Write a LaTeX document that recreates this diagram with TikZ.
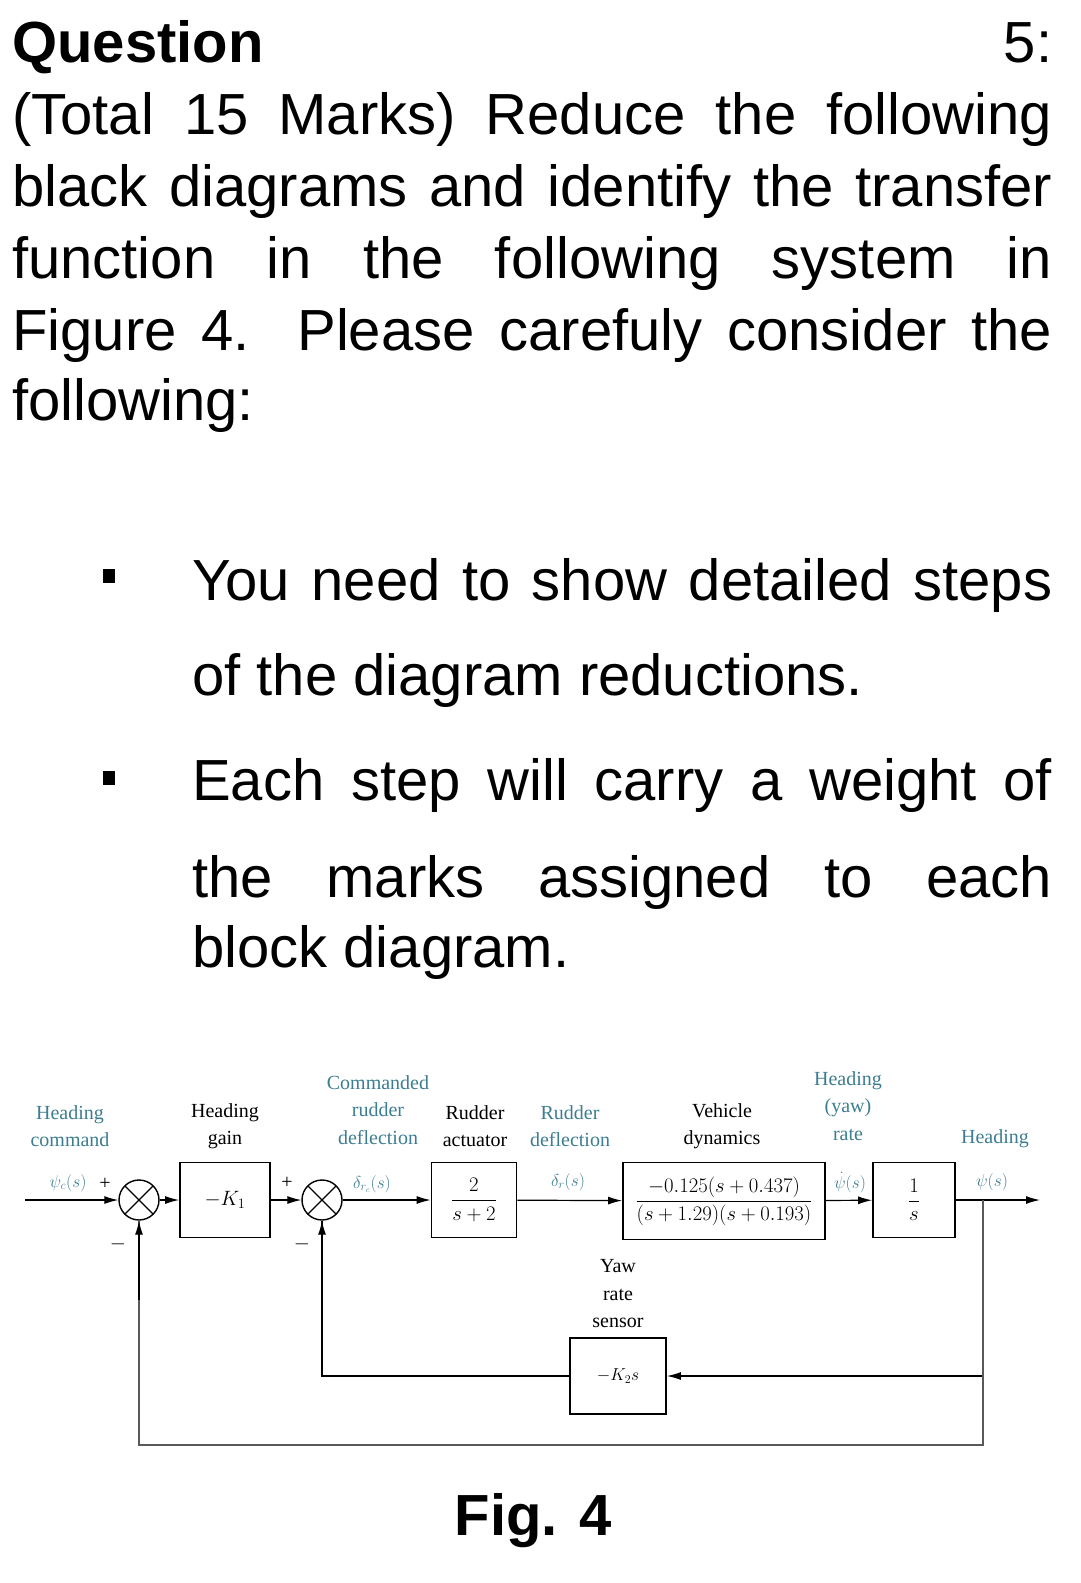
\documentclass[tikz,border=0pt]{standalone}
\usepackage{amsmath}
\usepackage{fontspec}
\setsansfont{Liberation Sans}
\setmainfont{Liberation Serif}
\usetikzlibrary{arrows.meta}
\definecolor{labelteal}{RGB}{60,125,145}
\tikzset{%
    Body line/.style={%
        anchor=base west,
        inner sep=0pt,
        font=\sffamily\fontsize{58}{68}\selectfont
    },
    Block box/.style={%
        draw,
        line width=1.8pt,
        inner sep=0pt
    },
    Sum node/.style={%
        draw,
        circle,
        line width=1.4pt,
        minimum size=40pt,
        inner sep=0pt,
        path picture={\draw[line width=1.2pt]
            (path picture bounding box.north west) -- (path picture bounding box.south east)
            (path picture bounding box.north east) -- (path picture bounding box.south west);}
    },
    Sig arrow/.style={%
        -{Latex[length=14pt,width=8pt]},
        line width=1.2pt
    },
    Loop line/.style={%
        line width=1.5pt,
        draw=black!65
    },
    Tag/.style={%
        align=center,
        inner sep=0pt,
        font=\fontsize{20}{27.5}\selectfont
    },
    Sig tag/.style={%
        anchor=base,
        inner sep=0pt,
        text=labelteal,
        font=\fontsize{17}{20}\selectfont
    }
}
\begin{document}
\begin{tikzpicture}[x=1pt,y=-1pt]
\useasboundingbox (0,0) rectangle (1080,1583);

% question text
\node[Body line] (q1) at (12,62) {\makebox[1040pt][s]{\textbf{Question} 5:}};
\node[Body line] (q2) at (12,134) {\makebox[1040pt][s]{(Total 15 Marks) Reduce the following}};
\node[Body line] (q3) at (12,206) {\makebox[1040pt][s]{black diagrams and identify the transfer}};
\node[Body line] (q4) at (12,278) {\makebox[1040pt][s]{function in the following system in}};
\node[Body line] (q5) at (12,350) {\makebox[1040pt][s]{Figure 4. Please carefuly consider the}};
\node[Body line] (q6) at (12,420) {following:};

% bullets
\fill (103,569) rectangle ++(12,14);
\node[Body line] (b1) at (192,600) {\makebox[860pt][s]{You need to show detailed steps}};
\node[Body line] (b2) at (192,695) {of the diagram reductions.};
\fill (103,771) rectangle ++(12,14);
\node[Body line] (b3) at (192,800) {\makebox[860pt][s]{Each step will carry a weight of}};
\node[Body line] (b4) at (192,897) {\makebox[860pt][s]{the marks assigned to each}};
\node[Body line] (b5) at (192,967) {block diagram.};

% blocks
\node[Sum node] (sumA) at (139,1200) {};
\node[Block box,minimum width=90pt,minimum height=75pt] (gain) at (225,1200) {\fontsize{20}{24}\selectfont$-K_1$};
\node[Sum node] (sumB) at (322,1200) {};
\node[Block box,minimum width=85pt,minimum height=75pt] (act) at (474,1200) {\fontsize{20}{24}\selectfont$\dfrac{2}{s+2}$};
\node[Block box,minimum width=202pt,minimum height=77pt] (veh) at (724,1201) {\fontsize{20}{24}\selectfont$\dfrac{-0.125(s+0.437)}{(s+1.29)(s+0.193)}$};
\node[Block box,minimum width=82pt,minimum height=75pt] (integ) at (914,1200) {\fontsize{20}{24}\selectfont$\dfrac{1}{s}$};
\node[Block box,minimum width=96pt,minimum height=76pt] (sens) at (618,1376) {\fontsize{17}{20}\selectfont$-K_2s$};
\coordinate (inp) at (25,1200);
\coordinate (outp) at (1040,1200);
\coordinate (tap) at (983,1200);

% forward path
\draw[Sig arrow] (inp) -- (sumA);
\draw[Sig arrow] (sumA) -- (gain);
\draw[Sig arrow] (gain) -- (sumB);
\draw[Sig arrow] (sumB) -- (act);
\draw[Sig arrow] (act) -- (veh);
\draw[Sig arrow] (veh) -- (integ);
\draw[Sig arrow] (integ) -- (outp);

% feedback loops
\draw[Sig arrow] (tap) |- (sens);
\draw[line width=1.2pt] (sens.west) -| (sumB.south);
\draw[Sig arrow] (322,1300) -- (sumB.south);
\draw[Loop line] (tap) |- (139,1445) -- (sumA.south);
\draw[Sig arrow] (139,1300) -- (sumA.south);

% signs
\node[Tag] (pA) at (105,1184) {+};
\node[Tag] (pB) at (287,1183) {+};
\node[Tag] (mA) at (118,1244) {$-$};
\node[Tag] (mB) at (302,1244) {$-$};

% labels
\node[Tag,text=labelteal] (lcmd) at (70,1126) {Heading\\command};
\node[Tag] (lgain) at (225,1126) {Heading\\gain};
\node[Tag,text=labelteal] (lcrd) at (378,1110) {Commanded\\rudder\\deflection};
\node[Tag] (lact) at (475,1126) {Rudder\\actuator};
\node[Tag,text=labelteal] (lrd) at (570,1126) {Rudder\\deflection};
\node[Tag] (lveh) at (722,1126) {Vehicle\\dynamics};
\node[Tag,text=labelteal] (lrate) at (848,1106) {Heading\\(yaw)\\rate};
\node[Tag,text=labelteal] (lhead) at (995,1139) {Heading};
\node[Tag] (lsens) at (618,1294) {Yaw\\rate\\sensor};

\node[Sig tag] (sPsiC) at (68,1187) {$\psi_c(s)$};
\node[Sig tag] (sDrc) at (372,1188) {$\delta_{r_c}(s)$};
\node[Sig tag] (sDr) at (568,1186) {$\delta_r(s)$};
\node[Sig tag] (sDpsi) at (850,1188) {$\dot\psi(s)$};
\node[Sig tag] (sPsi) at (992,1186) {$\psi(s)$};

\node[anchor=base,inner sep=0pt,font=\sffamily\bfseries\fontsize{58}{68}\selectfont] (fig) at (533,1535) {Fig. 4};
\end{tikzpicture}
\end{document}
